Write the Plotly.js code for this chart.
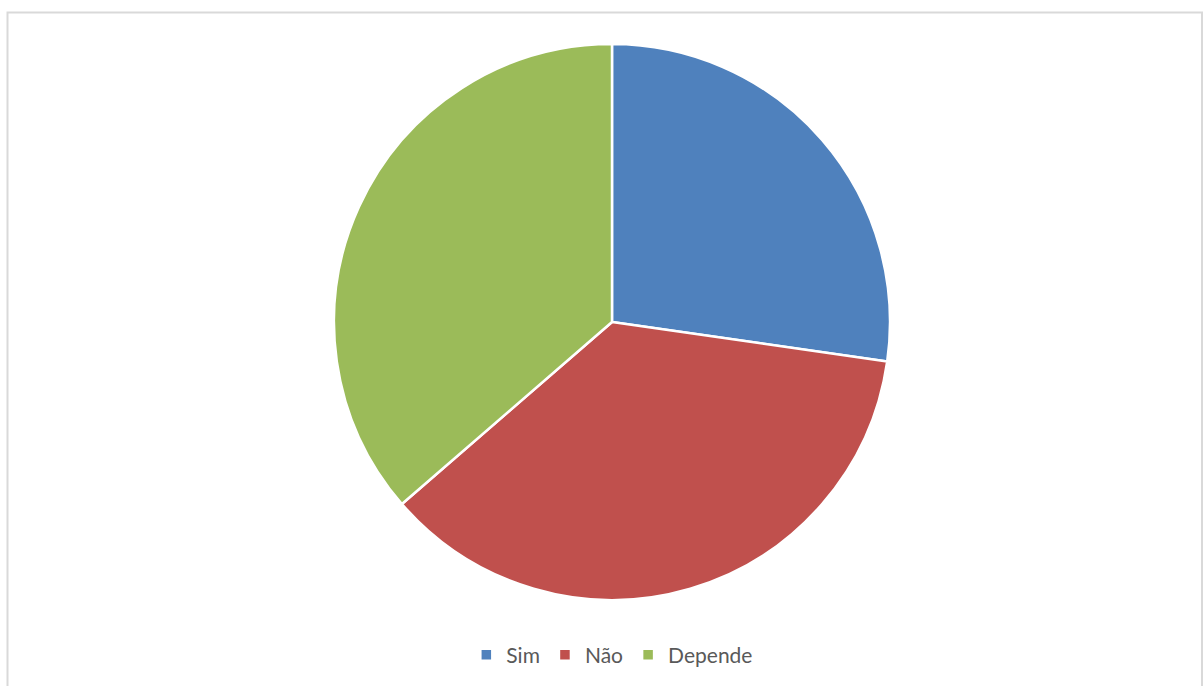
<!DOCTYPE html>
<html>
<head>
<meta charset="utf-8">
<script src="https://cdn.plot.ly/plotly-3.0.1.min.js"></script>
<style>html,body{margin:0;padding:0;background:#fff;}#chart{width:1203px;height:686px;}</style>
</head>
<body>
<div id="chart"></div>
<script>
const categories = ["Sim", "Não", "Depende"];
const values = [15, 20, 20];
const colors = ["#4F81BD", "#C0504D", "#9BBB59"];

const W = 1203, H = 686;
const cx = 612, cy = 322, r = 278;

const trace = {
  type: "pie",
  labels: categories,
  values: values,
  sort: false,
  direction: "clockwise",
  rotation: 0,
  textinfo: "none",
  hoverinfo: "label+value+percent",
  marker: { colors: colors, line: { color: "#ffffff", width: 2.5 } },
  domain: {
    x: [(cx - r) / W, (cx + r) / W],
    y: [1 - (cy + r) / H, 1 - (cy - r) / H]
  }
};

const layout = {
  width: W, height: H,
  margin: { l: 0, r: 0, t: 0, b: 0 },
  paper_bgcolor: "#ffffff",
  showlegend: true,
  legend: {
    orientation: "h",
    x: 0.509, xanchor: "center",
    y: 1 - 655 / H, yanchor: "middle",
    font: { family: "Lato, 'Open Sans', sans-serif", size: 21, color: "#595959" },
    itemclick: false
  },
  shapes: [{
    type: "rect", xref: "paper", yref: "paper",
    x0: 7.5 / W, x1: 1202 / W, y0: -0.02, y1: 1 - 12.5 / H,
    line: { color: "#d9d9d9", width: 2 }, fillcolor: "rgba(0,0,0,0)"
  }]
};

Plotly.newPlot("chart", [trace], layout, { displayModeBar: false, staticPlot: true });
</script>
</body>
</html>
